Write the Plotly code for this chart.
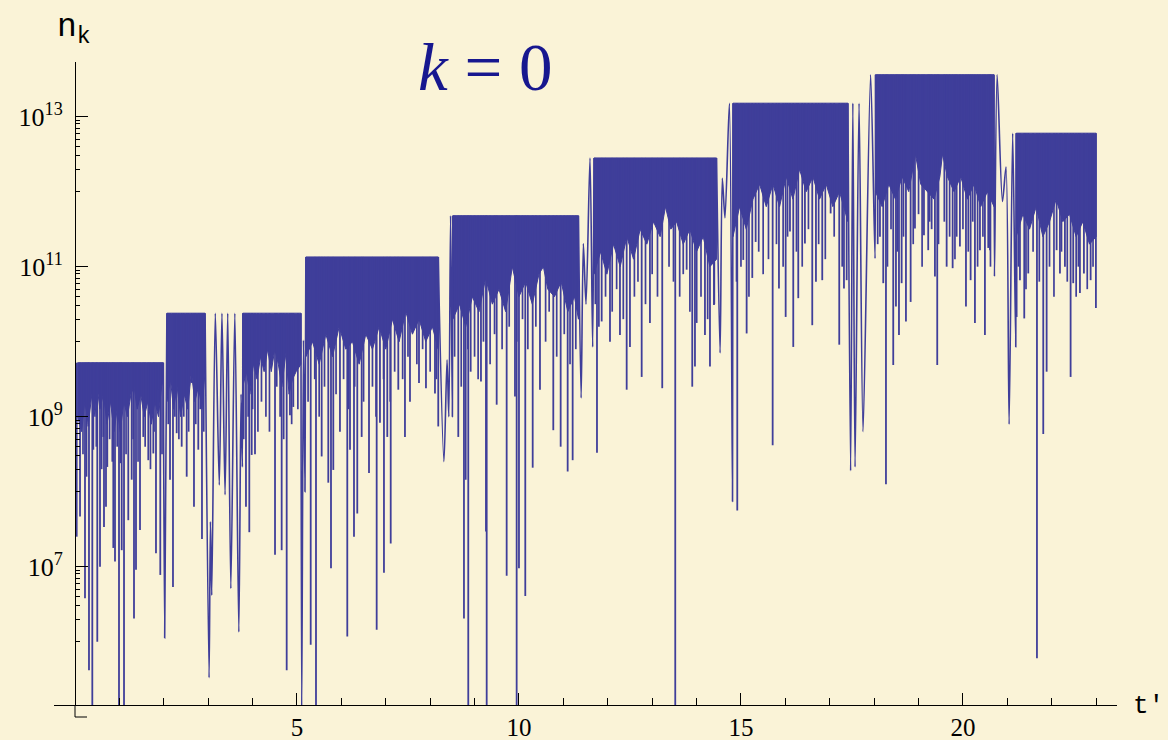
import plotly.graph_objects as go

BG = "#FAF3D7"
INK = "#3F3E9A"
TITLE_INK = "#17178F"

# ---------------------------------------------------------------------------
# n_k(t') for k = 0, stored as log10(n_k).
# The fast oscillation fills a solid band on each plateau: upper edge BAND_TOP,
# lower edge given by FLOOR_T / FLOOR_LOG.
# ---------------------------------------------------------------------------
BAND_START = [0.06, 2.07, 3.78, 5.20, 8.51, 11.69, 14.82, 18.03, 21.20]
BAND_END = [1.99, 2.93, 5.09, 8.18, 11.34, 14.45, 17.41, 20.70, 23.00]
BAND_TOP = [9.72, 10.38, 10.38, 11.13, 11.68, 12.45, 13.18, 13.56, 12.78]

FLOOR_T = [
    [0.06, 0.15, 0.22, 0.30, 0.38, 0.45, 0.50, 0.56, 0.64, 0.72, 0.80, 0.88, 0.95, 1.02,
     1.10, 1.18, 1.26, 1.33, 1.40, 1.48, 1.56, 1.64, 1.72, 1.80, 1.88, 1.95, 1.99],
    [2.07, 2.15, 2.22, 2.30, 2.38, 2.46, 2.54, 2.62, 2.70, 2.78, 2.86, 2.93],
    [3.78, 3.86, 3.94, 4.02, 4.10, 4.18, 4.26, 4.34, 4.42, 4.50, 4.58, 4.66, 4.75, 4.82,
     4.90, 4.98, 5.09],
    [5.20, 5.35, 5.50, 5.65, 5.80, 5.95, 6.10, 6.25, 6.40, 6.55, 6.70, 6.85, 7.00, 7.15,
     7.30, 7.45, 7.60, 7.75, 7.90, 8.05, 8.18],
    [8.51, 8.66, 8.80, 8.95, 9.10, 9.25, 9.40, 9.55, 9.70, 9.85, 10.00, 10.15, 10.30,
     10.45, 10.55, 10.65, 10.80, 10.95, 11.10, 11.25, 11.34],
    [11.69, 11.84, 11.98, 12.13, 12.28, 12.43, 12.58, 12.73, 12.88, 13.03, 13.18, 13.30,
     13.42, 13.55, 13.70, 13.85, 14.00, 14.15, 14.30, 14.45],
    [14.82, 14.97, 15.12, 15.27, 15.42, 15.57, 15.72, 15.87, 16.02, 16.17, 16.32, 16.47,
     16.62, 16.77, 16.92, 17.07, 17.22, 17.41],
    [18.03, 18.18, 18.33, 18.48, 18.63, 18.78, 18.93, 19.05, 19.20, 19.35, 19.48, 19.54,
     19.65, 19.80, 19.95, 20.10, 20.25, 20.40, 20.55, 20.70],
    [21.20, 21.35, 21.50, 21.65, 21.80, 21.95, 22.10, 22.25, 22.40, 22.55, 22.70, 22.85,
     23.00],
]
FLOOR_LOG = [
    [9.0, 8.8, 9.2, 8.9, 9.3, 9.0, 9.4, 9.1, 9.3, 8.9, 9.2, 8.8, 9.1, 8.8,
     9.2, 9.0, 9.3, 9.4, 9.1, 9.3, 9.0, 9.2, 8.9, 9.2, 9.0, 9.4, 9.5],
    [9.2, 9.5, 9.1, 9.4, 9.0, 9.3, 9.1, 9.6, 9.2, 9.4, 9.1, 9.6],
    [9.4, 9.6, 9.3, 9.7, 9.5, 9.8, 9.6, 9.9, 9.6, 9.9, 9.7, 9.4, 9.85, 9.3,
     9.5, 9.6, 9.7],
    [9.8, 10.0, 9.7, 10.1, 9.8, 10.2, 9.9, 10.0, 9.7, 10.1, 9.9, 10.2, 9.9, 10.3,
     10.0, 10.4, 10.1, 10.3, 10.0, 10.2, 9.9],
    [10.3, 10.5, 10.2, 10.6, 10.4, 10.85, 10.5, 10.7, 10.4, 11.0, 10.6, 10.8, 10.5,
     10.9, 11.0, 10.7, 10.6, 10.8, 10.4, 10.6, 10.3],
    [10.9, 11.2, 10.9, 11.3, 11.0, 11.4, 11.1, 11.5, 11.3, 11.6, 11.4, 11.8,
     11.5, 11.6, 11.3, 11.5, 11.2, 11.4, 11.0, 11.1],
    [11.4, 11.8, 11.5, 11.9, 12.1, 11.8, 12.1, 11.8, 12.2, 11.9, 12.3, 12.0,
     12.2, 11.9, 12.1, 11.8, 12.0, 11.6],
    [12.0, 11.8, 12.1, 11.9, 12.2, 12.0, 12.5, 12.1, 12.0, 11.9, 12.2, 12.5,
     12.2, 12.0, 12.2, 11.9, 12.1, 11.8, 12.0, 11.8],
    [11.4, 11.7, 11.5, 11.8, 11.4, 11.6, 11.9, 11.6, 11.7, 11.4, 11.6, 11.3,
     11.4],
]

# Slow arches between the plateaus (alternating maxima / minima)
ARCH_T = [
    [1.99, 2.02, 2.07],
    [2.93, 3.02, 3.05, 3.08, 3.16, 3.25, 3.31, 3.38, 3.44, 3.51, 3.60, 3.69, 3.74, 3.77, 3.78],
    [5.09, 5.106, 5.146, 5.18, 5.20],
    [8.18, 8.31, 8.38, 8.42, 8.46, 8.50, 8.51],
    [11.34, 11.40, 11.45, 11.51, 11.60, 11.66, 11.69],
    [14.45, 14.53, 14.58, 14.64, 14.74, 14.81, 14.82],
    [17.41, 17.47, 17.52, 17.57, 17.66, 17.75, 17.92, 18.02, 18.03],
    [20.70, 20.71, 20.77, 20.89, 20.97, 21.04, 21.12, 21.19, 21.20],
]
ARCH_LOG = [
    [9.72, 6.05, 10.38],
    [10.38, 5.52, 7.6, 6.62, 10.38, 8.09, 10.38, 7.96, 10.38, 6.71, 10.38, 6.13, 9.3, 8.33, 10.38],
    [10.38, 5.0, 10.02, 8.0, 11.13],
    [11.13, 8.40, 9.76, 9.0, 11.68, 9.0, 11.68],
    [11.68, 9.25, 11.31, 10.5, 12.45, 9.93, 12.45],
    [12.45, 9.85, 12.18, 11.65, 13.18, 7.87, 13.18],
    [13.18, 8.28, 13.18, 8.33, 13.18, 8.80, 13.56, 11.11, 13.56],
    [13.56, 10.87, 13.56, 11.87, 12.33, 8.90, 12.78, 9.93, 12.78],
]

# Isolated deep minima hanging below the bands (t', log10 n_k)
SPIKE_T = [
    0.038, 0.113, 0.225, 0.300, 0.315, 0.390, 0.412, 0.502, 0.563, 0.637, 0.653, 0.698, 0.727,
    0.863, 0.901, 0.991, 1.025, 1.052, 1.104, 1.200, 1.277, 1.329, 1.374, 1.464, 1.538, 1.651,
    1.764, 1.824, 1.876, 1.921,
    2.140, 2.207, 2.290, 2.403, 2.516, 2.628, 2.680, 2.777, 2.860,
    3.851, 3.926, 3.980, 4.054, 4.505, 4.543, 4.655, 4.768, 4.842, 4.917,
    5.309, 5.428, 5.556, 5.705, 5.766, 5.818, 5.968, 6.133, 6.194, 6.284, 6.358, 6.457, 6.622,
    6.795, 6.869, 6.959, 7.034, 7.111, 7.282, 7.432, 7.545, 7.658, 7.748, 7.905, 8.108, 8.182,
    8.633, 8.761, 8.800, 8.858, 8.912, 9.144, 9.257, 9.273, 9.498, 9.723, 9.910, 9.948, 10.000,
    10.142, 10.309, 10.473, 10.773, 10.939, 11.097, 11.209,
    11.757, 11.863, 12.050, 12.275, 12.426, 12.500, 12.764, 12.950, 13.227, 13.520, 13.777,
    13.903, 13.964, 14.002, 14.189, 14.302, 14.392,
    14.917, 15.052, 15.128, 15.255, 15.331, 15.714, 15.856, 16.007, 16.104, 16.178, 16.291,
    16.441, 16.606, 16.689, 16.831, 17.020, 17.214, 17.320, 17.381,
    18.131, 18.205, 18.266, 18.430, 18.491, 18.559, 18.619, 18.716, 18.822, 18.919, 19.122,
    19.218, 19.295, 19.369, 19.421, 19.633, 19.768, 19.858, 19.932, 20.068, 20.173, 20.270,
    20.383, 20.495, 20.570, 20.608,
    21.209, 21.284, 21.381, 21.471, 21.667, 21.809, 21.885, 22.110, 22.185, 22.297, 22.425,
    22.484, 22.635, 22.725, 22.876, 22.995,
]
SPIKE_LOG = [
    7.40, 7.67, 6.58, 8.87, 5.62, 5.0, 8.56, 6.0, 7.0, 8.73, 7.53, 7.8, 8.33,
    7.25, 7.07, 5.0, 8.38, 7.22, 5.0, 7.62, 8.16, 6.31, 6.96, 7.49, 8.73, 8.42,
    8.51, 7.18, 9.36, 6.89,
    8.16, 6.73, 8.78, 8.6, 8.2, 9.45, 7.8, 8.56, 7.37,
    7.8, 7.46, 8.49, 8.5, 7.16, 9.4, 7.22, 5.62, 9.02, 9.13,
    5.96, 5.0, 8.47, 8.12, 6.98, 8.29, 8.8, 6.07, 8.56, 7.40, 7.71, 8.73, 8.25,
    6.16, 8.92, 6.92, 8.73, 7.31, 9.36, 8.73, 9.2, 10.2, 9.45, 9.38, 9.31, 8.87,
    8.73, 6.31, 8.16, 5.0, 9.6, 9.47, 7.47, 5.0, 9.16, 6.88, 9.27, 5.0, 6.98,
    6.61, 8.32, 9.36, 8.82, 8.6, 8.27, 8.42,
    8.52, 10.27, 10.0, 10.09, 9.36, 9.93, 9.53, 10.25, 9.38, 5.0, 10.96,
    9.4, 9.67, 10.25, 10.09, 9.67, 10.49,
    7.75, 11.09, 10.11, 10.85, 11.33, 8.62, 10.71, 10.33, 11.47, 9.93, 10.58,
    11.31, 10.22, 10.8, 10.82, 11.71, 9.96, 10.71, 10.82,
    11.4, 10.78, 8.10, 9.69, 10.47, 10.09, 10.78, 10.27, 10.53, 11.51, 11.42,
    11.22, 11.5, 10.87, 9.69, 11.0, 10.98, 11.4, 11.27, 10.47, 10.82, 10.25,
    11.22, 10.09, 11.25, 11.22,
    10.33, 10.82, 10.31, 10.91, 5.78, 8.77, 9.6, 11.22, 10.91, 11.0, 9.53,
    10.78, 10.65, 10.91, 10.82, 10.45,
]

# Shallower minima forming the comb just under each band
COMB_T = [
    0.18, 0.26, 0.48, 0.60, 0.78, 0.84, 0.95, 1.15, 1.31, 1.42, 1.58, 1.70, 1.78, 1.96,
    2.10, 2.25, 2.34, 2.45, 2.56, 2.72, 2.82, 2.90,
    3.80, 3.90, 4.00, 4.12, 4.20, 4.30, 4.38, 4.62, 4.70, 4.88, 5.02,
    5.25, 5.40, 5.50, 5.62, 5.88, 6.05, 6.16, 6.30, 6.50, 6.70, 6.78, 6.95, 7.10, 7.20,
    7.38, 7.50, 7.70, 7.83, 8.00, 8.14,
    8.55, 8.70, 8.85, 9.00, 9.08, 9.20, 9.35, 9.45, 9.62, 9.78, 9.95, 10.08, 10.20, 10.38,
    10.60, 10.68, 10.85, 11.02, 11.15, 11.28,
    11.72, 11.80, 11.95, 12.10, 12.20, 12.35, 12.60, 12.68, 12.85, 13.00, 13.12, 13.38,
    13.48, 13.62, 13.70, 13.85, 14.10, 14.25, 14.40,
    14.90, 15.00, 15.18, 15.40, 15.50, 15.62, 15.80, 15.95, 16.05, 16.25, 16.38, 16.52,
    16.75, 16.90, 17.10, 17.28,
    18.08, 18.30, 18.38, 18.52, 18.66, 18.88, 19.00, 19.08, 19.25, 19.45, 19.58, 19.70,
    19.82, 20.00, 20.12, 20.22, 20.33, 20.45, 20.62,
    21.25, 21.42, 21.58, 21.72, 21.95, 22.05, 22.22, 22.35, 22.55, 22.60, 22.80, 22.93,
]
COMB_LOG = [
    8.5, 8.2, 8.6, 8.3, 8.7, 8.4, 8.6, 8.5, 8.7, 8.4, 8.6, 8.3, 8.8, 8.5,
    8.9, 9.0, 8.7, 9.0, 8.8, 8.9, 9.1, 8.8,
    8.7, 9.0, 9.1, 8.8, 9.2, 9.0, 8.8, 9.0, 8.7, 8.9, 9.1,
    9.2, 9.5, 9.0, 9.4, 9.3, 9.5, 9.1, 9.4, 9.2, 9.4, 9.0, 9.5, 9.2, 9.6,
    9.5, 9.8, 9.7, 9.9, 9.6, 9.5,
    9.8, 9.4, 9.9, 9.8, 9.5, 10.0, 9.7, 10.1, 9.9, 10.2, 10.0, 10.3, 9.9, 10.2,
    10.0, 10.4, 9.8, 10.1, 9.7, 9.9,
    10.5, 10.2, 10.6, 10.4, 10.7, 10.3, 10.6, 10.8, 10.5, 10.9, 10.6, 11.0,
    10.8, 10.6, 10.9, 10.4, 10.6, 10.3, 10.5,
    10.8, 11.0, 10.6, 11.2, 10.9, 11.1, 11.3, 11.0, 11.4, 11.2, 11.0, 11.5,
    11.3, 11.1, 11.4, 11.0,
    11.3, 11.0, 11.5, 11.2, 11.4, 11.3, 11.7, 11.0, 11.6, 11.3, 11.6, 11.4,
    11.1, 11.5, 11.2, 11.6, 11.0, 11.4, 11.0,
    11.0, 10.7, 11.2, 10.8, 11.0, 10.6, 11.2, 10.8, 10.6, 11.0, 10.7, 11.0,
]

X_MAJOR = [5, 10, 15, 20]
X_MINOR = [v for v in range(1, 24) if v % 5]
Y_MAJOR_EXP = [7, 9, 11, 13]
Y_MINOR = [j * 10.0 ** (e - 1) for e in Y_MAJOR_EXP for j in range(1, 10)]

X_RANGE = [-0.473, 23.47]
Y_RANGE = [5.156, 13.729]


def band_top_at(t):
    for s, e, top in zip(BAND_START, BAND_END, BAND_TOP):
        if s <= t <= e:
            return top
    nearest = min(range(len(BAND_START)),
                  key=lambda i: min(abs(t - BAND_START[i]), abs(t - BAND_END[i])))
    return BAND_TOP[nearest]


def drop_lines(ts, logs):
    xs, ys = [], []
    for t, v in zip(ts, logs):
        xs += [t, t, None]
        ys += [10 ** band_top_at(t), 10 ** v, None]
    return xs, ys


fig = go.Figure()

# dense oscillation bands
for s, e, top, ft, fv in zip(BAND_START, BAND_END, BAND_TOP, FLOOR_T, FLOOR_LOG):
    xs = [s, e] + ft[::-1] + [s]
    ys = [top, top] + fv[::-1] + [top]
    fig.add_trace(go.Scatter(
        x=xs, y=[10 ** v for v in ys], mode="lines", fill="toself",
        fillcolor=INK, line=dict(color=INK, width=1), hoverinfo="skip"))

# comb of shallow minima
cx, cy = drop_lines(COMB_T, COMB_LOG)
fig.add_trace(go.Scatter(x=cx, y=cy, mode="lines",
                         line=dict(color=INK, width=1.7), hoverinfo="skip"))

# deep minima
sx, sy = drop_lines(SPIKE_T, SPIKE_LOG)
fig.add_trace(go.Scatter(x=sx, y=sy, mode="lines",
                         line=dict(color=INK, width=1.8), hoverinfo="skip"))

# slow arches at the plateau transitions
for at, av in zip(ARCH_T, ARCH_LOG):
    fig.add_trace(go.Scatter(
        x=at, y=[10 ** v for v in av], mode="lines",
        line=dict(color=INK, width=1.6, shape="spline", smoothing=0.8),
        hoverinfo="skip"))

L, R, T, B = 54, 1117, 62, 705
W, H = 1168, 740
plot_w, plot_h = R - L, B - T
yaxis_px = 75
yaxis_pos = (yaxis_px - L) / plot_w

serif = "Liberation Serif, Times New Roman, Times, DejaVu Serif, serif"
mono = "Liberation Mono, Courier New, DejaVu Sans Mono, monospace"
fig.update_layout(
    width=W, height=H, autosize=False,
    margin=dict(l=L, r=W - R, t=T, b=H - B, pad=0),
    paper_bgcolor=BG, plot_bgcolor=BG, showlegend=False,
    font=dict(family=serif, color="black"),
    xaxis=dict(
        range=X_RANGE, showgrid=False, zeroline=False, automargin=False,
        showline=True, linecolor="black", linewidth=1,
        ticks="inside", ticklen=12, tickwidth=1, tickcolor="black",
        tickmode="array", tickvals=X_MAJOR, ticktext=[str(v) for v in X_MAJOR],
        tickfont=dict(family=serif, size=25, color="black"),
        ticklabelstandoff=0,
        minor=dict(tickmode="array", tickvals=X_MINOR, ticks="inside",
                   ticklen=7, tickwidth=1, tickcolor="black", showgrid=False),
    ),
    yaxis=dict(
        type="log", range=Y_RANGE, anchor="free", position=yaxis_pos,
        showgrid=False, zeroline=False, automargin=False,
        showline=True, linecolor="black", linewidth=1,
        ticks="inside", ticklen=12, tickwidth=1, tickcolor="black",
        tickmode="array", tickvals=[10.0 ** e for e in Y_MAJOR_EXP],
        ticktext=[f"10<sup>{e}</sup>" for e in Y_MAJOR_EXP],
        tickfont=dict(family=serif, size=26, color="black"),
        ticklabelstandoff=7,
        minor=dict(tickmode="array", tickvals=Y_MINOR, ticks="inside",
                   ticklen=4, tickwidth=1, tickcolor="black", showgrid=False),
    ),
)

# y axis continues a little below the t' axis, ending in the 10^5 tick
ext = 12 / plot_h
fig.add_shape(type="line", xref="paper", yref="paper",
              x0=yaxis_pos, x1=yaxis_pos, y0=-ext, y1=0,
              line=dict(color="black", width=1))
fig.add_shape(type="line", xref="paper", yref="paper",
              x0=yaxis_pos, x1=yaxis_pos + 12 / plot_w, y0=-ext, y1=-ext,
              line=dict(color="black", width=1))

# axis names and the panel label
fig.add_annotation(text="n<sub>k</sub>", xref="paper", yref="paper",
                   x=(55 - L) / plot_w, y=(B - 30) / plot_h,
                   xanchor="left", yanchor="middle", showarrow=False,
                   font=dict(family=mono, size=33, color="black"))
fig.add_annotation(text="t'", xref="paper", yref="paper",
                   x=(1166 - L) / plot_w, y=(B - 706) / plot_h,
                   xanchor="right", yanchor="middle", showarrow=False,
                   font=dict(family=mono, size=26, color="black"))
fig.add_annotation(text="<i>k</i> = 0", xref="paper", yref="paper",
                   x=(485 - L) / plot_w, y=(B - 67) / plot_h,
                   xanchor="center", yanchor="middle", showarrow=False,
                   font=dict(family=serif, size=67, color=TITLE_INK))

fig.write_html("out.html")
